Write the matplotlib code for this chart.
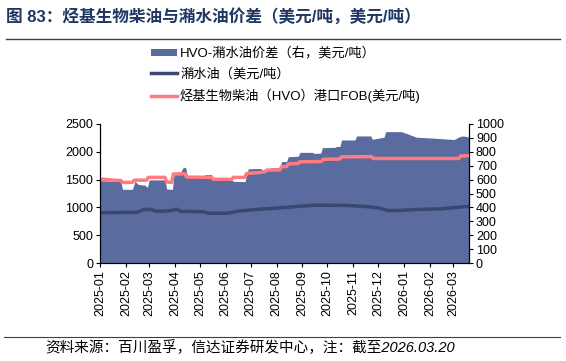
import matplotlib
matplotlib.use('Agg')
import matplotlib.pyplot as plt
import matplotlib.dates as mdates
from matplotlib.lines import Line2D
from matplotlib.patches import Patch
import pandas as pd

plt.rcParams['font.family'] = ['Liberation Sans', 'Noto Sans CJK SC', 'DejaVu Sans']

BASE_DATE = '2025-01-01'
END_DATE = '2026-03-20'

# HVO port FOB price (left axis, USD/t) - day offsets from BASE_DATE
hvo_day = [0, 10, 20, 25, 27, 39, 41, 56, 58, 78, 80, 86, 88, 102, 104, 134, 136, 158, 160, 174,
           176, 190, 198, 200, 216, 218, 224, 226, 238, 240, 266, 268, 288, 290, 326, 328, 431, 433, 443]
hvo_val = [1510, 1500, 1485, 1485, 1450, 1450, 1490, 1490, 1540, 1540, 1455, 1450, 1600, 1605, 1545, 1540, 1505, 1505, 1540, 1540,
           1610, 1625, 1640, 1670, 1675, 1730, 1735, 1780, 1790, 1820, 1825, 1865, 1870, 1910, 1912, 1880, 1880, 1925, 1930]

# UCO price (left axis, USD/t)
uco_day = [0, 45, 52, 62, 66, 76, 86, 92, 97, 124, 130, 154, 167, 190, 223, 257, 297, 320, 335, 345,
           360, 377, 410, 443]
uco_val = [905, 912, 960, 965, 935, 930, 945, 968, 930, 922, 895, 895, 935, 965, 1000, 1040, 1035, 1015, 990, 945,
           945, 960, 975, 1020]

# HVO-UCO spread (right axis, USD/t)
spread_day = [0, 20, 25, 27, 39, 42, 46, 54, 57, 59, 78, 80, 87, 89, 97, 100, 103, 105, 124, 126,
              134, 136, 158, 160, 174, 178, 193, 195, 203, 205, 216, 218, 224, 226, 238, 240, 255, 257, 265, 267,
              282, 284, 288, 290, 306, 308, 325, 327, 341, 343, 362, 380, 404, 425, 432, 436, 443]
spread_val = [592, 588, 585, 530, 530, 588, 565, 560, 545, 598, 598, 532, 530, 650, 655, 688, 685, 622, 622, 636,
              636, 598, 598, 588, 585, 678, 680, 668, 670, 686, 686, 730, 730, 765, 768, 796, 796, 789, 790, 830,
              832, 838, 838, 885, 885, 914, 914, 890, 905, 945, 945, 905, 897, 888, 910, 914, 906]

labels = ['HVO-潲水油价差（右，美元/吨）', '潲水油（美元/吨）', '烃基生物柴油（HVO）港口FOB(美元/吨)']
title = '图 83：烃基生物柴油与潲水油价差（美元/吨，美元/吨）'
source = '资料来源：百川盈孚，信达证券研发中心，注：截至2026.03.20'

base = pd.Timestamp(BASE_DATE)
def to_dates(days):
    return [base + pd.Timedelta(days=d) for d in days]

FILL_C = '#5A6B9F'
UCO_C = '#3A4770'
HVO_C = '#FF7B80'

fig = plt.figure(figsize=(5.66, 3.61), dpi=100)
ax = fig.add_axes([100/566, 1-263/361, 369/566, 139/361])
ax2 = ax.twinx()

ax2.fill_between(to_dates(spread_day), spread_val, 0, color=FILL_C, lw=0)
ax.set_zorder(ax2.get_zorder() + 1)
ax.patch.set_visible(False)
ax.plot(to_dates(uco_day), uco_val, color=UCO_C, lw=2.5, solid_joinstyle='round')
ax.plot(to_dates(hvo_day), hvo_val, color=HVO_C, lw=2.5, solid_joinstyle='round')

ax.set_xlim(base, pd.Timestamp(END_DATE))
ax.set_ylim(0, 2500)
ax2.set_ylim(0, 1000)
ax.set_yticks(range(0, 2501, 500))
ax2.set_yticks(range(0, 1001, 100))
ax.xaxis.set_major_locator(mdates.MonthLocator())
ax.xaxis.set_major_formatter(mdates.DateFormatter('%Y-%m'))
for lab in ax.get_xticklabels():
    lab.set_rotation(90)

for a in (ax, ax2):
    a.spines['top'].set_visible(False)
    for s in ('left', 'right', 'bottom'):
        a.spines[s].set_linewidth(0.8)
    a.tick_params(direction='out', length=3, width=0.8, labelsize=9, pad=2)
ax.tick_params(axis='x', labelsize=9, pad=2)

handles = [Patch(facecolor=FILL_C, edgecolor='none'),
           Line2D([], [], color=UCO_C, lw=2.5),
           Line2D([], [], color=HVO_C, lw=2.5)]
fig.legend(handles, labels, loc='upper left', bbox_to_anchor=(151/566, 1-47/361),
           frameon=False, fontsize=9.5, labelspacing=0.6, handlelength=1.95,
           handleheight=0.45, handletextpad=0.25, borderaxespad=0, borderpad=0)

fig.text(6/566, 1-17/361, title, fontsize=12, fontweight='bold', color='#1F3763', va='center', ha='left')
fig.add_artist(Line2D([6/566, 560/566], [1-39/361, 1-39/361], color='#404040', lw=1.0))
fig.add_artist(Line2D([4/566, 560/566], [1-337/361, 1-337/361], color='#404040', lw=0.8))
fig.text(45/566, 1-348/361, source, fontsize=10.5, style='italic', va='center', ha='left', color='black')

fig.savefig('out.png', dpi=100)
